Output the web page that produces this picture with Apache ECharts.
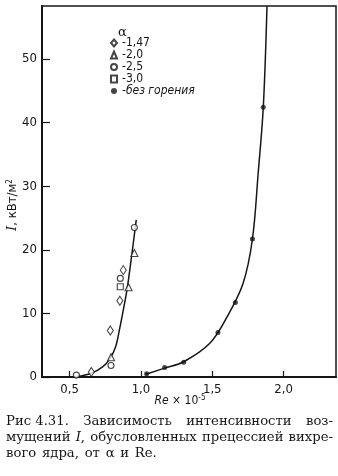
<!DOCTYPE html>
<html><head><meta charset="utf-8">
<script src="https://cdn.jsdelivr.net/npm/echarts@6/dist/echarts.min.js"></script>
<style>html,body{margin:0;padding:0;background:#fff}#c{width:338px;height:476px}</style>
</head><body><div id="c"></div>
<script>
// ---- data ----
const xTicks = [0.5, 1.0, 1.5, 2.0];
const yTicks = [0, 10, 20, 30, 40, 50];
const legendNames = ['-1,47', '-2,0', '-2,5', '-3,0', '-без горения'];
// alpha = 1.47 (open diamonds)
const alpha147 = [[0.652, 0.8], [0.785, 7.3], [0.852, 12.0], [0.876, 16.8]];
// alpha = 2.0 (open triangles)
const alpha20 = [[0.79, 3.1], [0.913, 14.1], [0.954, 19.5]];
// alpha = 2.5 (open circles)
const alpha25 = [[0.547, 0.3], [0.79, 1.8], [0.855, 15.5], [0.954, 23.5]];
// alpha = 3.0 (open squares)
const alpha30 = [[0.855, 14.2]];
// without combustion (filled dots)
const noComb = [[1.04, 0.5], [1.166, 1.5], [1.30, 2.3], [1.54, 7.0], [1.662, 11.7], [1.782, 21.7], [1.858, 42.4]];
// fitted curves
const curveAlpha = [[0.547, 0.05], [0.652, 0.6], [0.731, 1.6], [0.783, 2.9], [0.823, 4.8], [0.849, 7.4], [0.876, 10.5], [0.902, 13.7], [0.928, 17.9], [0.967, 24.7]];
const curveNoComb = [[1.03, 0.4], [1.166, 1.4], [1.30, 2.4], [1.483, 5.3], [1.605, 9.5], [1.716, 14.7], [1.782, 21.7], [1.822, 32.0], [1.858, 42.4], [1.884, 58.3]];
const captionLines = [
  ['Рис 4.31.', 'Зависимость', 'интенсивности', 'воз-'],
  ['мущений', 'I,', 'обусловленных', 'прецессией', 'вихре-'],
  ['вого', 'ядра,', 'от', 'α', 'и', 'Re.']
];

// ---- chart ----
const INK = '#161616';
const SANS = '"Liberation Sans Narrow","DejaVu Sans Condensed","Liberation Sans",Arial,sans-serif';
const SERIF = '"DejaVu Serif","Liberation Serif",serif';
const chart = echarts.init(document.getElementById('c'), null, {renderer: 'canvas'});

const openStyle = {color: '#fff', borderColor: INK, borderWidth: 1.1};

// caption justification
const mctx = document.createElement('canvas').getContext('2d');
const capFontSize = 12;
const capScale = 1.1;
mctx.font = capFontSize + 'px ' + SERIF;
const capX0 = 6, capX1 = 333, capY = [422, 438, 453.5];
const graphics = [];
captionLines.forEach((words, li) => {
  const widths = words.map(w => mctx.measureText(w).width * capScale);
  const total = widths.reduce((a, b) => a + b, 0);
  const justify = li < captionLines.length - 1;
  const gap = justify ? (capX1 - capX0 - total) / (words.length - 1) : mctx.measureText(' ').width * 1.5;
  let x = capX0;
  words.forEach((w, i) => {
    const isI = w === 'I,';
    graphics.push({
      type: 'text', x: x, y: capY[li], scaleX: capScale,
      style: {
        text: isI ? '{i|I},' : w, verticalAlign: 'middle',
        font: capFontSize + 'px ' + SERIF, fill: INK,
        rich: {i: {fontStyle: 'italic', fontSize: capFontSize, fontFamily: SERIF, fill: INK}}
      }
    });
    x += widths[i] + gap;
  });
});

// alpha title of legend
graphics.push({type: 'text', left: 118, top: 26, style: {text: 'α', font: '13px ' + SERIF, fill: INK}});
// y axis name
graphics.push({
  type: 'text', x: 13, y: 205, rotation: Math.PI / 2,
  style: {
    text: '{i|I}, кВт/м{s|2}', align: 'center', verticalAlign: 'middle', fill: INK,
    font: '13px ' + SANS,
    rich: {
      i: {fontStyle: 'italic', fontSize: 13, fontFamily: SERIF, fill: INK},
      s: {fontSize: 8, verticalAlign: 'top', fill: INK, fontFamily: SANS, padding: [0, 0, 6, 0]}
    }
  }
});
// x axis name
graphics.push({
  type: 'text', x: 180, y: 401,
  style: {
    text: '{i|Re} × 10{s|-5}', align: 'center', verticalAlign: 'middle', fill: INK,
    font: '12px ' + SANS,
    rich: {
      i: {fontStyle: 'italic', fontSize: 12, fontFamily: SANS, fill: INK},
      s: {fontSize: 8, verticalAlign: 'top', fill: INK, fontFamily: SANS, padding: [0, 0, 6, 0]}
    }
  }
});

const option = {
  animation: false,
  backgroundColor: '#fff',
  grid: {left: 42, right: 2, top: 6, bottom: 99, show: true, borderColor: INK, borderWidth: 1.5, outerBoundsMode: 'none', containLabel: false},
  xAxis: {
    type: 'value', min: 0.306, max: 2.368,
    axisLine: {show: true, onZero: false, lineStyle: {color: INK, width: 2}},
    axisTick: {show: true, inside: true, length: 6, customValues: xTicks, lineStyle: {color: INK, width: 1.2}},
    axisLabel: {customValues: xTicks, formatter: v => v.toFixed(1).replace('.', ','), margin: 6, fontSize: 13, color: INK, fontFamily: SANS},
    splitLine: {show: false}
  },
  yAxis: {
    type: 'value', min: 0, max: 58.33,
    axisLine: {show: true, onZero: false, lineStyle: {color: INK, width: 2}},
    axisTick: {show: true, inside: true, length: 8, customValues: yTicks, lineStyle: {color: INK, width: 1.2}},
    axisLabel: {customValues: yTicks, margin: 5, fontSize: 13, color: INK, fontFamily: SANS},
    splitLine: {show: false}
  },
  legend: {
    orient: 'vertical', left: 110, top: 37, padding: 0, itemWidth: 6, itemHeight: 7, itemGap: 0,
    selectedMode: false,
    textStyle: {fontSize: 12, lineHeight: 10, color: INK, fontFamily: SANS},
    data: [
      {name: legendNames[0]}, {name: legendNames[1]}, {name: legendNames[2]}, {name: legendNames[3]},
      {name: legendNames[4], textStyle: {fontStyle: 'italic', fontSize: 12, lineHeight: 10, color: INK, fontFamily: SANS}}
    ]
  },
  graphic: graphics,
  series: [
    {type: 'line', data: curveAlpha, smooth: 0.35, showSymbol: false, silent: true, lineStyle: {color: INK, width: 1.5}, z: 2},
    {type: 'line', data: curveNoComb, smooth: 0.35, showSymbol: false, silent: true, lineStyle: {color: INK, width: 1.5}, z: 2},
    {type: 'scatter', name: legendNames[0], data: alpha147, symbol: 'diamond', symbolSize: [6, 9], itemStyle: openStyle, z: 3},
    {type: 'scatter', name: legendNames[1], data: alpha20, symbol: 'triangle', symbolSize: 7, itemStyle: openStyle, z: 3},
    {type: 'scatter', name: legendNames[2], data: alpha25, symbol: 'circle', symbolSize: 6, itemStyle: openStyle, z: 3},
    {type: 'scatter', name: legendNames[3], data: alpha30, symbol: 'rect', symbolSize: 6, itemStyle: openStyle, z: 3},
    {type: 'scatter', name: legendNames[4], data: noComb, symbol: 'circle', symbolSize: 5, itemStyle: {color: INK}, z: 3}
  ]
};
chart.setOption(option);
</script></body></html>
